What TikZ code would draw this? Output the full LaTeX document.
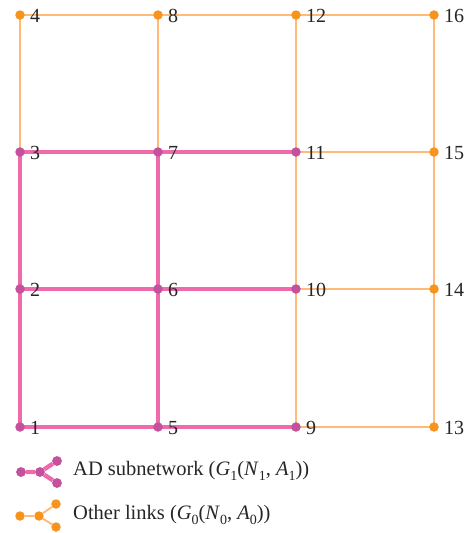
\documentclass[tikz,border=0pt]{standalone}
\usepackage{fontspec}
\setmainfont{Liberation Serif}
\definecolor{adpink}{HTML}{EE6AAA}
\definecolor{addot}{HTML}{C4519E}
\definecolor{olink}{HTML}{FDBB77}
\definecolor{odot}{HTML}{F7941D}
\newcommand{\sbx}[1]{\raisebox{-0.25em}{\fontsize{14}{15}\selectfont #1}}
\tikzset{
  pinkedge/.style={adpink, line width=4.4pt},
  oedge/.style={olink, line width=2.9pt},
  othin/.style={olink, line width=1.9pt},
  pdot/.style={circle, fill=addot, inner sep=0pt, minimum size=9.5pt},
  odotst/.style={circle, fill=odot, inner sep=0pt, minimum size=9.5pt},
  lbl/.style={anchor=west, inner sep=0pt, font=\fontsize{20}{22}\selectfont, text=black!85},
  leg/.style={anchor=west, inner sep=0pt, font=\fontsize{20.5}{22}\selectfont, text=black!85}
}
\begin{document}
\begin{tikzpicture}[x=1pt, y=-1pt]
\useasboundingbox (0,0) rectangle (466,533);
% coordinates
\coordinate (n1) at (20,427);
\coordinate (n2) at (20,289);
\coordinate (n3) at (20,152);
\coordinate (n4) at (20,15);
\coordinate (n5) at (158,427);
\coordinate (n6) at (158,289);
\coordinate (n7) at (158,152);
\coordinate (n8) at (158,15);
\coordinate (n9) at (296,427);
\coordinate (n10) at (296,289);
\coordinate (n11) at (296,152);
\coordinate (n12) at (296,15);
\coordinate (n13) at (434,427);
\coordinate (n14) at (434,289);
\coordinate (n15) at (434,152);
\coordinate (n16) at (434,15);
% orange links
\draw[othin] (n3) -- (n4);
\draw[othin] (n9) -- (n13);
\draw[othin] (n13) -- (n14);
\draw[othin] (n14) -- (n15);
\draw[othin] (n15) -- (n16);
\draw[oedge] (n4) -- (n8);
\draw[oedge] (n8) -- (n12);
\draw[oedge] (n12) -- (n16);
\draw[oedge] (n7) -- (n8);
\draw[oedge] (n11) -- (n12);
\draw[oedge] (n10) -- (n11);
\draw[oedge] (n9) -- (n10);
\draw[oedge] (n11) -- (n15);
\draw[oedge] (n10) -- (n14);
% AD subnetwork
\draw[pinkedge] (n1) -- (n2) -- (n3);
\draw[pinkedge] (n5) -- (n6) -- (n7);
\draw[pinkedge] (n1) -- (n5) -- (n9);
\draw[pinkedge] (n2) -- (n6) -- (n10);
\draw[pinkedge] (n3) -- (n7) -- (n11);
% dots
\foreach \i in {1,2,3,5,6,7,9,10,11} \node[pdot] (d\i) at (n\i) {};
\foreach \i in {4,8,12,13,14,15,16} \node[odotst] (d\i) at (n\i) {};
% labels
\foreach \i in {1,...,16} \node[lbl] (l\i) at ([xshift=10pt,yshift=-1pt]n\i) {\i};
% legend
\node[pdot] (pa) at (21,472) {};
\node[pdot] (pb) at (40,472) {};
\node[pdot] (pc) at (57,461) {};
\node[pdot] (pd) at (57,483) {};
\draw[pinkedge] (pa) -- (pb) -- (pc);
\draw[pinkedge] (pb) -- (pd);
\node[pdot] at (pa) {};
\node[pdot] at (pb) {};
\node[pdot] at (pc) {};
\node[pdot] at (pd) {};
\node[leg] (t1) at (73,471) {AD subnetwork (\textit{G}\sbx{1}(\textit{N}\sbx{1}, \textit{A}\sbx{1}))};
\node[odotst] (oa) at (20,516) {};
\node[odotst] (ob) at (39,516) {};
\node[odotst] (oc) at (56,504) {};
\node[odotst] (od) at (56,527) {};
\draw[othin] (oa) -- (ob) -- (oc);
\draw[othin] (ob) -- (od);
\node[leg] (t2) at (73,515) {Other links (\textit{G}\sbx{0}(\textit{N}\sbx{0}, \textit{A}\sbx{0}))};
\end{tikzpicture}
\end{document}
